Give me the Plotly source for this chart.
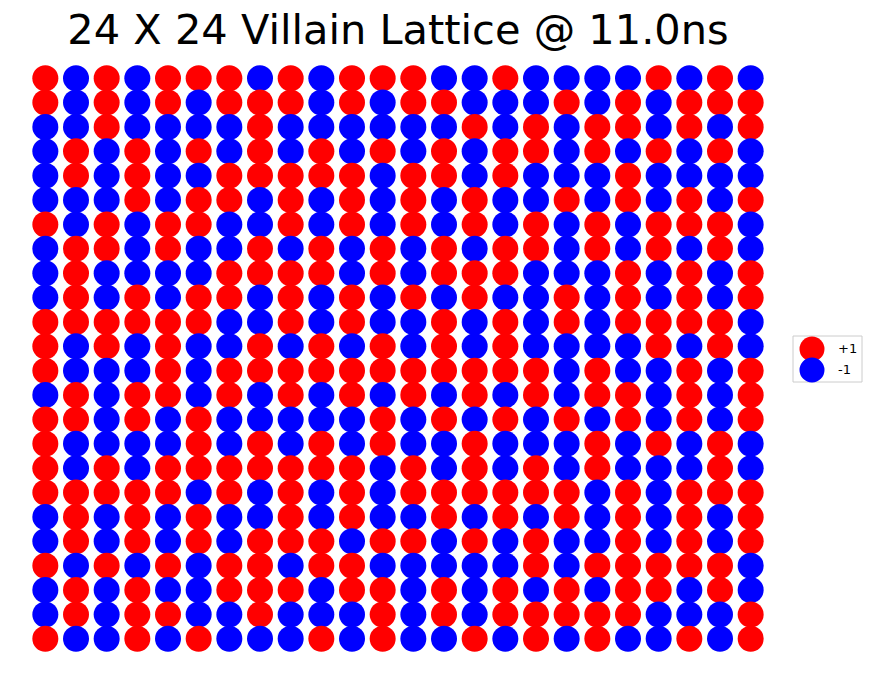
import plotly.graph_objects as go

# Spin lattice (row 1 = top row), +1 = red, -1 = blue
spins = [
    [1,-1,1,-1,1,1,1,-1,1,-1,1,1, 1,-1,-1,1,-1,-1,-1,-1,1,-1,1,-1],
    [1,-1,1,-1,1,-1,1,1,1,-1,1,-1, 1,1,-1,-1,-1,1,-1,1,-1,1,1,1],
    [-1,-1,1,-1,-1,-1,-1,1,-1,-1,-1,-1, -1,-1,1,-1,1,-1,1,1,-1,1,-1,1],
    [-1,1,-1,1,-1,1,-1,1,-1,1,-1,1, -1,1,-1,1,1,-1,1,-1,1,-1,1,-1],
    [-1,1,-1,1,-1,-1,1,1,1,1,1,-1, 1,1,-1,1,-1,-1,-1,1,-1,-1,-1,-1],
    [-1,-1,-1,1,-1,1,1,-1,1,-1,1,-1, 1,-1,1,-1,-1,1,-1,1,-1,1,-1,1],
    [1,-1,1,-1,1,1,-1,-1,1,-1,1,-1, 1,-1,1,-1,1,-1,1,-1,1,1,1,-1],
    [-1,1,1,-1,1,-1,-1,1,-1,1,-1,1, -1,1,-1,1,1,-1,1,-1,1,-1,1,-1],
    [-1,1,-1,-1,-1,-1,1,1,1,1,-1,1, -1,1,1,1,-1,-1,-1,1,-1,1,-1,1],
    [-1,1,-1,1,-1,1,1,-1,1,-1,1,-1, 1,-1,1,-1,-1,1,-1,1,-1,1,-1,1],
    [1,1,1,1,1,1,-1,-1,1,-1,1,-1, -1,1,-1,1,-1,1,-1,1,1,1,1,-1],
    [1,-1,1,-1,1,-1,-1,1,-1,1,-1,1, -1,1,-1,1,-1,-1,-1,-1,1,-1,1,-1],
    [1,-1,-1,-1,1,-1,1,1,1,1,1,1, 1,1,1,1,1,-1,1,-1,-1,1,-1,1],
    [-1,1,-1,1,1,-1,1,-1,1,-1,1,-1, 1,-1,1,-1,1,-1,1,1,-1,1,-1,1],
    [1,1,-1,1,-1,1,-1,-1,-1,-1,-1,1, -1,1,-1,1,-1,1,-1,1,-1,1,-1,1],
    [1,-1,-1,-1,-1,1,-1,1,-1,1,-1,1, -1,-1,1,-1,-1,-1,1,-1,1,-1,1,-1],
    [1,-1,1,-1,1,1,1,1,1,1,1,-1, 1,-1,1,-1,1,-1,1,-1,-1,-1,1,-1],
    [1,1,1,1,1,-1,1,-1,1,-1,1,-1, 1,1,1,1,1,1,-1,1,-1,1,1,1],
    [-1,1,-1,1,-1,1,-1,-1,1,-1,1,-1, -1,1,-1,1,-1,1,-1,1,-1,1,-1,1],
    [-1,1,-1,1,-1,1,-1,1,1,1,-1,1, 1,-1,1,-1,1,-1,-1,1,-1,1,-1,1],
    [1,-1,1,-1,1,-1,1,1,-1,1,1,-1, -1,-1,-1,-1,1,-1,1,1,1,1,1,-1],
    [-1,1,-1,1,-1,-1,1,1,1,-1,1,1, -1,1,-1,1,-1,1,-1,1,1,-1,1,-1],
    [-1,1,-1,1,1,-1,-1,1,-1,-1,-1,1, -1,1,-1,1,1,1,1,1,-1,-1,-1,1],
    [1,-1,-1,1,-1,1,-1,-1,-1,1,-1,1, -1,-1,1,-1,1,-1,1,-1,-1,1,-1,1],
]
legend_labels = ["+1", "-1"]
spin_colors = {1: "#ff0000", -1: "#0000ff"}
title_text = "24 X 24 Villain Lattice @ 11.0ns"

N = len(spins)
xs, ys, cs = [], [], []
for r, row in enumerate(spins):
    for c, s in enumerate(row):
        xs.append(c)
        ys.append(r)
        cs.append(spin_colors[s])

fig = go.Figure()
fig.add_trace(go.Scatter(
    x=xs, y=ys, mode="markers",
    marker=dict(size=26, color=cs, line=dict(width=0)),
    showlegend=False, cliponaxis=False, hoverinfo="skip",
))

W, H = 872, 677
ML, MR, MT, MB = 30, 106, 66, 26
PW, PH = W - ML - MR, H - MT - MB

def px(x):
    return (x - ML) / PW

def py(y):
    return (H - MB - y) / PH

shapes = []
annotations = []
shapes.append(dict(type="rect", xref="paper", yref="paper",
                   x0=px(793), x1=px(862), y0=py(382), y1=py(336),
                   line=dict(color="#cccccc", width=1), fillcolor="white", layer="above"))
for i, (lab, s) in enumerate(zip(legend_labels, [1, -1])):
    cy = 349 + i * 21
    shapes.append(dict(type="circle", xref="paper", yref="paper",
                       xsizemode="pixel", ysizemode="pixel",
                       xanchor=px(812), yanchor=py(cy),
                       x0=-12.5, x1=12.5, y0=-12.5, y1=12.5,
                       fillcolor=spin_colors[s], line=dict(width=0), layer="above"))
    annotations.append(dict(xref="paper", yref="paper", x=px(836), y=py(cy),
                            text=lab, showarrow=False, xanchor="left", yanchor="middle",
                            font=dict(family="DejaVu Sans", size=13, color="black")))

fig.update_layout(
    width=W, height=H,
    margin=dict(l=ML, r=MR, t=MT, b=MB),
    paper_bgcolor="white", plot_bgcolor="white",
    title=dict(text=title_text, x=(ML + PW / 2) / W, xanchor="center",
               y=1 - 29 / H, yanchor="middle", yref="container", xref="container",
               font=dict(family="DejaVu Sans", size=41.5, color="black")),
    xaxis=dict(range=[-0.5, N - 0.5], visible=False, showgrid=False, zeroline=False),
    yaxis=dict(range=[N - 0.5, -0.5], visible=False, showgrid=False, zeroline=False),
    shapes=shapes, annotations=annotations,
)

fig.write_html("out.html", config={"displayModeBar": False},
               post_script="document.body.style.margin='0';")
